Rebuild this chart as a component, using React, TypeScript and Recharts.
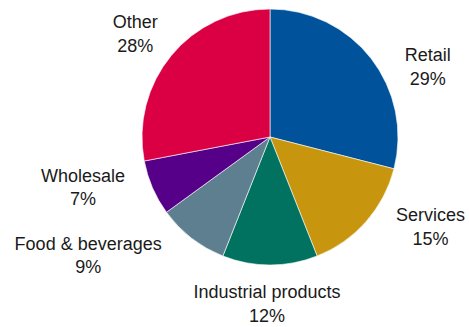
import React from "react";
import { PieChart, Pie, Cell } from "recharts";

const categories = ["Retail", "Services", "Industrial products", "Food & beverages", "Wholesale", "Other"];
const shares = [29, 15, 12, 9, 7, 28];

const COLORS = ["#00539B", "#C8960E", "#00725F", "#5D7F8F", "#56008A", "#DA0043"];
// label nudges (dx, dy) relative to the default outside position
const LABEL_NUDGE: [number, number][] = [
  [33, 21],
  [42, -20],
  [-3, 3],
  [-85, -12],
  [-42, -18],
  [-13, -8],
];

const data = categories.map((name, i) => ({ name, value: shares[i] }));

const RAD = Math.PI / 180;

const renderLabel = (props: any) => {
  const { cx, cy, midAngle, outerRadius, index, name, value } = props;
  const r = outerRadius + 30;
  const bx = cx + r * Math.cos(-midAngle * RAD);
  const by = cy + r * Math.sin(-midAngle * RAD);
  const [dx, dy] = LABEL_NUDGE[index] || [0, 0];
  const x = bx + dx;
  const y = by + dy;
  return (
    <text
      x={x}
      y={y}
      textAnchor="middle"
      fill="#1a1a1a"
      fontFamily="'Liberation Sans', Arial, sans-serif"
      fontSize={18}
    >
      <tspan x={x} dy={0}>{name}</tspan>
      <tspan x={x} dy={23.5}>{`${value}%`}</tspan>
    </text>
  );
};

export default function App() {
  return (
    <div style={{ position: "absolute", left: 0, top: 0, width: 469, height: 327, background: "#fff" }}>
      <PieChart width={469} height={327} margin={{ top: 0, right: 0, bottom: 0, left: 0 }}>
        <Pie
          data={data}
          dataKey="value"
          nameKey="name"
          cx={270}
          cy={137}
          outerRadius={128}
          startAngle={90}
          endAngle={-270}
          stroke="#ffffff"
          strokeWidth={0.6}
          label={renderLabel}
          labelLine={false}
          isAnimationActive={false}
        >
          {data.map((d, i) => (
            <Cell key={d.name} fill={COLORS[i]} />
          ))}
        </Pie>
      </PieChart>
    </div>
  );
}
